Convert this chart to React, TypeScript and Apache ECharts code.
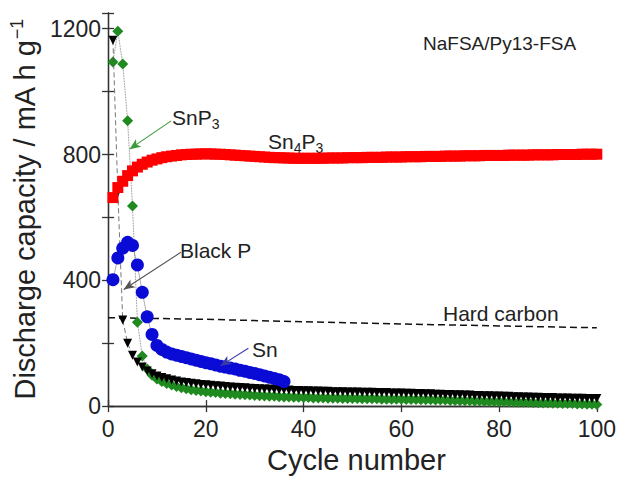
import React, { useEffect, useRef } from 'react';
import * as echarts from 'echarts';

// ---- data ----
const xTickValues = [0, 20, 40, 60, 80, 100];
const yLabelValues = [0, 400, 800, 1200];

// Sn4P3 (red squares), cycles 1..100
const sn4p3 = [
  663, 695, 715, 733, 748, 760, 769, 776, 782, 786,
  790, 793, 795, 797, 799, 800, 801, 801, 802, 802,
  802, 801, 801, 800, 799, 798, 797, 796, 795, 794,
  793, 792, 791, 790, 790, 789, 789, 788, 788, 788,
  788, 788, 788, 788, 789, 789, 789, 789, 790, 790,
  790, 790, 791, 791, 791, 791, 792, 792, 792, 792,
  793, 793, 793, 793, 794, 794, 794, 794, 795, 795,
  795, 795, 796, 796, 796, 796, 797, 797, 797, 797,
  797, 798, 798, 798, 798, 798, 799, 799, 799, 799,
  799, 800, 800, 800, 800, 800, 801, 801, 801, 801,
];

// SnP3 (green diamonds), cycles 1..100
const snp3 = [
  1094, 1192, 1088, 907, 636, 267, 159, 118, 98, 86,
  78, 72, 67, 62, 58, 55, 52, 50, 48, 46,
  44, 43, 41, 40, 39, 38, 37, 36, 35, 34,
  33, 32, 31, 31, 30, 29, 29, 28, 28, 27,
  27, 26, 26, 26, 25, 25, 25, 24, 24, 24,
  24, 23, 23, 23, 23, 22, 22, 22, 22, 22,
  21, 21, 21, 20, 20, 20, 19, 19, 19, 18,
  18, 17, 17, 17, 16, 16, 15, 15, 15, 14,
  14, 13, 13, 12, 12, 12, 11, 11, 10, 10,
  9, 9, 8, 8, 8, 7, 7, 6, 6, 5,
];

// Black P (black down-triangles), cycles 1..100
const blackP = [
  1163, 680, 274, 200, 162, 140, 124, 112, 103, 96,
  91, 87, 83, 80, 77, 75, 73, 71, 69, 68,
  66, 65, 64, 62, 61, 60, 59, 58, 57, 56,
  55, 54, 54, 53, 52, 52, 51, 50, 50, 49,
  49, 48, 48, 47, 47, 46, 46, 46, 45, 45,
  45, 44, 44, 44, 43, 43, 43, 42, 42, 42,
  41, 41, 40, 40, 39, 39, 38, 38, 37, 37,
  36, 36, 35, 35, 34, 34, 33, 33, 32, 32,
  31, 31, 30, 30, 29, 29, 28, 28, 27, 27,
  27, 26, 26, 26, 25, 25, 25, 24, 24, 24,
];

// Sn (blue circles), cycles 1..36
const sn = [
  402, 471, 502, 521, 511, 449, 362, 284, 228, 193,
  180, 172, 166, 162, 158, 154, 150, 146, 142, 138,
  135, 131, 127, 124, 121, 118, 114, 111, 107, 104,
  100, 96, 92, 88, 84, 78,
];

// Hard carbon (dashed line)
const hardCarbonCycles = [0, 20, 40, 60, 80, 100];
const hardCarbon = [281, 276, 268, 261, 255, 249];

// annotation arrows (data coordinates: [cycle, capacity])
const arrowDefs = [
  { from: [12.9, 907], to: [4.4, 817], color: '#3c9a3c' },
  { from: [14.9, 489], to: [3.2, 371], color: '#555555' },
  { from: [28.7, 184], to: [23.0, 128], color: '#3a3aa8' },
];

const FONT = '"Liberation Sans", Arial, Helvetica, sans-serif';

export default function App() {
  const ref = useRef<HTMLDivElement>(null);

  useEffect(() => {
    document.body.style.margin = '0';
    if (!ref.current) return;
    const chart = echarts.init(ref.current, undefined, { renderer: 'svg' });

    const axisLineStyle = { color: '#333', width: 1.3 };
    const toPairs = (arr: number[]) => arr.map((v, i) => [i + 1, v]);

    const textEl = (text: string, x: number, y: number, size: number, rich?: any) => ({
      type: 'text',
      x,
      y,
      silent: true,
      style: {
        text,
        fill: '#222',
        fontSize: size,
        fontFamily: FONT,
        align: 'left',
        verticalAlign: 'middle',
        rich,
      },
    });

    const subRich = (size: number) => ({
      s: { fontSize: size, fontFamily: FONT, fill: '#222', padding: [13, 0, 0, 0] },
    });

    const option: any = {
      animation: false,
      backgroundColor: '#ffffff',
      textStyle: { fontFamily: FONT },
      grid: { left: 106.5, right: 20, top: 13, bottom: 64 },
      xAxis: [
        {
          type: 'value',
          min: 0,
          max: 100,
          interval: 20,
          position: 'bottom',
          name: 'Cycle number',
          nameLocation: 'middle',
          nameGap: 34,
          nameTextStyle: { fontSize: 29, color: '#222', fontFamily: FONT, padding: [0, 0, 0, 8] },
          axisLine: { lineStyle: axisLineStyle },
          axisTick: { inside: true, length: 6, lineStyle: axisLineStyle },
          axisLabel: {
            fontSize: 23,
            color: '#222',
            margin: 11,
            fontFamily: FONT,
            formatter: (v: number) => (xTickValues.includes(v) ? String(v) : ''),
          },
          splitLine: { show: false },
        },
        {
          type: 'value',
          min: 0,
          max: 100,
          interval: 20,
          position: 'top',
          axisLine: { lineStyle: axisLineStyle },
          axisTick: { inside: true, length: 6, lineStyle: axisLineStyle },
          axisLabel: { show: false },
          splitLine: { show: false },
        },
      ],
      yAxis: [
        {
          type: 'value',
          min: 0,
          max: 1250,
          interval: 200,
          position: 'left',
          name: '{a|Discharge capacity / mA h g}{b|−1}',
          nameLocation: 'middle',
          nameGap: 60,
          nameRotate: 90,
          nameTextStyle: {
            color: '#222',
            rich: {
              a: { fontSize: 29, fontFamily: FONT, color: '#222' },
              b: { fontSize: 18, fontFamily: FONT, color: '#222', padding: [0, 0, 15, 0] },
            },
          },
          axisLine: { lineStyle: axisLineStyle },
          axisTick: { inside: true, length: 6, lineStyle: axisLineStyle },
          axisLabel: {
            fontSize: 23,
            color: '#222',
            margin: 7,
            fontFamily: FONT,
            formatter: (v: number) => (yLabelValues.includes(v) ? String(v) : ''),
          },
          splitLine: { show: false },
        },
        {
          type: 'value',
          min: 0,
          max: 1250,
          interval: 200,
          position: 'right',
          axisLine: { lineStyle: axisLineStyle },
          axisTick: { inside: true, length: 6, lineStyle: axisLineStyle },
          axisLabel: { show: false },
          splitLine: { show: false },
        },
      ],
      series: [
        {
          type: 'line',
          name: 'Hard carbon',
          data: hardCarbonCycles.map((c, i) => [c, hardCarbon[i]]),
          symbol: 'none',
          lineStyle: { color: '#111', width: 1.5, type: [7, 4] },
          silent: true,
          z: 1,
          markLine: {
            silent: true,
            symbol: ['none', 'arrow'],
            symbolSize: [7, 11],
            label: { show: false },
            data: arrowDefs.map((a) => [
              { coord: a.from, lineStyle: { color: a.color, width: 1.1, type: 'solid' } },
              { coord: a.to },
            ]),
          },
        },
        {
          type: 'line',
          name: 'SnP3',
          data: toPairs(snp3),
          symbol: 'diamond',
          symbolSize: 11,
          showAllSymbol: true,
          itemStyle: { color: '#1f8a1f' },
          lineStyle: { color: '#666', width: 0.8, type: 'dotted' },
          silent: true,
          z: 2,
        },
        {
          type: 'line',
          name: 'Black P',
          data: toPairs(blackP),
          symbol: 'triangle',
          symbolRotate: 180,
          symbolSize: 9,
          showAllSymbol: true,
          itemStyle: { color: '#000' },
          lineStyle: { color: '#555', width: 0.8, type: [5, 3] },
          silent: true,
          z: 3,
        },
        {
          type: 'line',
          name: 'Sn',
          data: toPairs(sn),
          symbol: 'circle',
          symbolSize: 13,
          showAllSymbol: true,
          itemStyle: { color: '#0b0bd6' },
          lineStyle: { color: '#777', width: 0.6 },
          silent: true,
          z: 4,
        },
        {
          type: 'line',
          name: 'Sn4P3',
          data: toPairs(sn4p3),
          symbol: 'rect',
          symbolSize: 11,
          showAllSymbol: true,
          itemStyle: { color: '#ff0000' },
          lineStyle: { width: 0 },
          silent: true,
          z: 5,
        },
      ],
      graphic: [
        textEl('NaFSA/Py13-FSA', 423, 43, 19),
        textEl('SnP{s|3}', 172, 117, 21, subRich(14)),
        textEl('Sn{s|4}P{s|3}', 268, 141, 21, subRich(14)),
        textEl('Black P', 180, 250, 21),
        textEl('Sn', 252, 349, 21),
        textEl('Hard carbon', 443, 313, 21),
      ],
    };

    chart.setOption(option);
    return () => chart.dispose();
  }, []);

  return (
    <div
      ref={ref}
      style={{ position: 'absolute', left: 0, top: 0, width: 619, height: 479, background: '#fff' }}
    />
  );
}
